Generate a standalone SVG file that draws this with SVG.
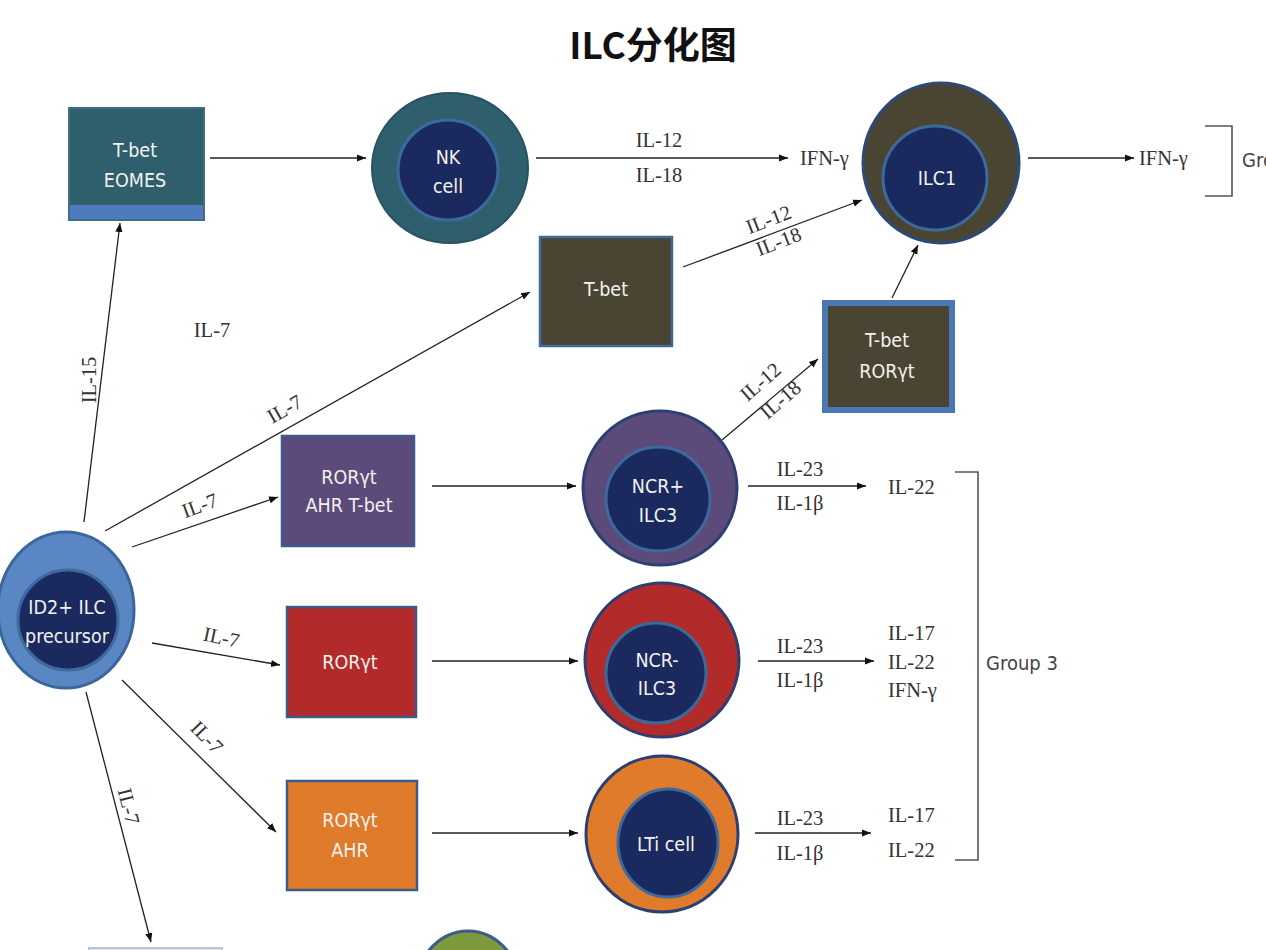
<svg xmlns="http://www.w3.org/2000/svg" width="1266" height="950" viewBox="0 0 1266 950">
<defs>
<marker id="ah" viewBox="0 0 10 10" refX="10" refY="5" markerWidth="9" markerHeight="9" markerUnits="userSpaceOnUse" orient="auto">
<path d="M0,1 L10,5 L0,9 z" fill="#111"/>
</marker>
</defs>
<style>
.title{font-family:"Noto Sans CJK SC","Liberation Sans",sans-serif;font-weight:bold;font-size:37px;fill:#111}
.nt{font-family:"DejaVu Sans Condensed","DejaVu Sans",sans-serif;font-size:19.5px;fill:#f2f2ee;text-anchor:middle}
.lb{font-family:"Liberation Serif","Times New Roman",serif;font-size:20.5px;fill:#333;text-anchor:middle}
.lbl{font-family:"Liberation Serif","Times New Roman",serif;font-size:20.5px;fill:#333}
.grp{font-family:"DejaVu Sans Condensed","DejaVu Sans",sans-serif;font-size:20px;fill:#444}
.ln{stroke:#222;stroke-width:1.3;fill:none}
.ar{stroke:#222;stroke-width:1.3;fill:none;marker-end:url(#ah)}
.br{stroke:#555;stroke-width:1.6;fill:none}
.navy{fill:#1b2a5e;stroke:#3d6a9c;stroke-width:3}
</style>
<rect width="1266" height="950" fill="#ffffff"/>
<text class="title" x="653" y="59" text-anchor="middle">ILC分化图</text>

<g id="connectors">
<line class="ar" x1="210" y1="158" x2="366" y2="158"/>
<line class="ar" x1="536" y1="158" x2="788" y2="158"/>
<line class="ar" x1="1028" y1="158" x2="1134" y2="158"/>
<line class="ar" x1="683" y1="267" x2="862" y2="200"/>
<line class="ar" x1="892" y1="298" x2="918" y2="245"/>
<line class="ar" x1="722" y1="440" x2="818" y2="359"/>
<line class="ar" x1="84" y1="522" x2="120" y2="223"/>
<line class="ar" x1="105" y1="531" x2="530" y2="292"/>
<line class="ar" x1="132" y1="547" x2="278" y2="497"/>
<line class="ar" x1="152" y1="643" x2="280" y2="665"/>
<line class="ar" x1="122" y1="680" x2="276" y2="832"/>
<line class="ar" x1="86" y1="692" x2="151" y2="942"/>
<line class="ar" x1="432" y1="486" x2="576" y2="486"/>
<line class="ar" x1="748" y1="486" x2="866" y2="486"/>
<line class="ar" x1="432" y1="661" x2="578" y2="661"/>
<line class="ar" x1="758" y1="661" x2="874" y2="661"/>
<line class="ar" x1="432" y1="833" x2="578" y2="833"/>
<line class="ar" x1="755" y1="833" x2="871" y2="833"/>
<polyline class="br" points="1205,126 1232,126 1232,196 1205,196"/>
<polyline class="br" points="955,472 978,472 978,860 955,860"/>
</g>

<g id="labels">
<text class="lb" x="659" y="147">IL-12</text>
<text class="lb" x="659" y="182">IL-18</text>
<text class="lbl" x="800" y="165">IFN-γ</text>
<text class="lbl" x="1139" y="165">IFN-γ</text>
<text class="grp" x="1242" y="167">Group 1</text>
<text class="lb" transform="translate(771,226) rotate(-21)">IL-12</text>
<text class="lb" transform="translate(781,248) rotate(-21)">IL-18</text>
<text class="lb" transform="translate(765,387) rotate(-41)">IL-12</text>
<text class="lb" transform="translate(785,405) rotate(-41)">IL-18</text>
<text class="lb" x="212" y="337">IL-7</text>
<text class="lb" transform="translate(96,380) rotate(-90)">IL-15</text>
<text class="lb" transform="translate(288,415) rotate(-30)">IL-7</text>
<text class="lb" transform="translate(202,512) rotate(-20)">IL-7</text>
<text class="lb" transform="translate(220,644) rotate(12)">IL-7</text>
<text class="lb" transform="translate(202,742) rotate(46)">IL-7</text>
<text class="lb" transform="translate(122,808) rotate(76)">IL-7</text>
<text class="lb" x="800" y="476">IL-23</text>
<text class="lb" x="800" y="510">IL-1β</text>
<text class="lbl" x="888" y="494">IL-22</text>
<text class="lb" x="800" y="653">IL-23</text>
<text class="lb" x="800" y="687">IL-1β</text>
<text class="lbl" x="888" y="640">IL-17</text>
<text class="lbl" x="888" y="669">IL-22</text>
<text class="lbl" x="888" y="697">IFN-γ</text>
<text class="lb" x="800" y="825">IL-23</text>
<text class="lb" x="800" y="860">IL-1β</text>
<text class="lbl" x="888" y="822">IL-17</text>
<text class="lbl" x="888" y="857">IL-22</text>
<text class="grp" x="986" y="670">Group 3</text>
</g>

<g id="tbet-eomes">
<rect x="69" y="108" width="135" height="112" fill="#2f5e6c" stroke="#3f6f82" stroke-width="2"/>
<rect x="70" y="205" width="133" height="14" fill="#4d7bbd"/>
<text class="nt" x="135" y="157">T-bet</text>
<text class="nt" x="135" y="187">EOMES</text>
</g>

<g id="nk-cell">
<ellipse cx="450" cy="168" rx="78" ry="75" fill="#2f5e6c" stroke="#2a5263" stroke-width="2"/>
<circle class="navy" cx="448" cy="170" r="50"/>
<text class="nt" x="448" y="164">NK</text>
<text class="nt" x="448" y="193">cell</text>
</g>

<g id="ilc1">
<ellipse cx="941" cy="163" rx="78" ry="80" fill="#4a4532" stroke="#2b4a7a" stroke-width="3"/>
<circle class="navy" cx="935" cy="178" r="52"/>
<text class="nt" x="937" y="185">ILC1</text>
</g>

<g id="tbet">
<rect x="540" y="237" width="132" height="109" fill="#4a4532" stroke="#3d6a9c" stroke-width="2.5"/>
<text class="nt" x="606" y="296">T-bet</text>
</g>

<g id="tbet-roryt">
<rect x="825" y="303" width="127" height="107" fill="#4a4532" stroke="#4a78b4" stroke-width="6"/>
<text class="nt" x="887" y="347">T-bet</text>
<text class="nt" x="887" y="378">RORγt</text>
</g>

<g id="precursor">
<ellipse cx="66" cy="610" rx="68" ry="78" fill="#5a86c4" stroke="#3b669c" stroke-width="3"/>
<circle class="navy" cx="68" cy="620" r="50"/>
<text class="nt" x="67" y="614">ID2+ ILC</text>
<text class="nt" x="67" y="643">precursor</text>
</g>

<g id="roryt-ahr-tbet">
<rect x="282" y="436" width="132" height="110" fill="#5b4a7a" stroke="#3d5a8a" stroke-width="2.5"/>
<text class="nt" x="349" y="484">RORγt</text>
<text class="nt" x="349" y="512">AHR T-bet</text>
</g>

<g id="ncr-plus-ilc3">
<circle cx="660" cy="488" r="77" fill="#5b4a7a" stroke="#2b3f72" stroke-width="3"/>
<circle class="navy" cx="658" cy="499" r="52"/>
<text class="nt" x="658" y="493">NCR+</text>
<text class="nt" x="658" y="522">ILC3</text>
</g>

<g id="roryt">
<rect x="287" y="607" width="129" height="110" fill="#b22a2a" stroke="#3d5a8a" stroke-width="2.5"/>
<text class="nt" x="350" y="669">RORγt</text>
</g>

<g id="ncr-minus-ilc3">
<circle cx="662" cy="660" r="77" fill="#b22a2a" stroke="#2b3f72" stroke-width="3"/>
<circle class="navy" cx="656" cy="673" r="50"/>
<text class="nt" x="657" y="667">NCR-</text>
<text class="nt" x="657" y="695">ILC3</text>
</g>

<g id="roryt-ahr">
<rect x="287" y="781" width="130" height="109" fill="#e07b2c" stroke="#3d5a8a" stroke-width="2.5"/>
<text class="nt" x="350" y="827">RORγt</text>
<text class="nt" x="350" y="857">AHR</text>
</g>

<g id="lti-cell">
<ellipse cx="662" cy="834" rx="76" ry="78" fill="#e07b2c" stroke="#2b3f72" stroke-width="3"/>
<ellipse class="navy" cx="668" cy="843" rx="50" ry="54"/>
<text class="nt" x="666" y="851">LTi cell</text>
</g>

<g id="bottom-box">
<rect x="89" y="948" width="133" height="40" fill="#dfe6ef" stroke="#b8c4d4" stroke-width="2"/>
</g>

<g id="bottom-cell">
<ellipse cx="468" cy="1005" rx="58" ry="74" fill="#7c9a3c" stroke="#3d5a8a" stroke-width="3"/>
</g>
</svg>
